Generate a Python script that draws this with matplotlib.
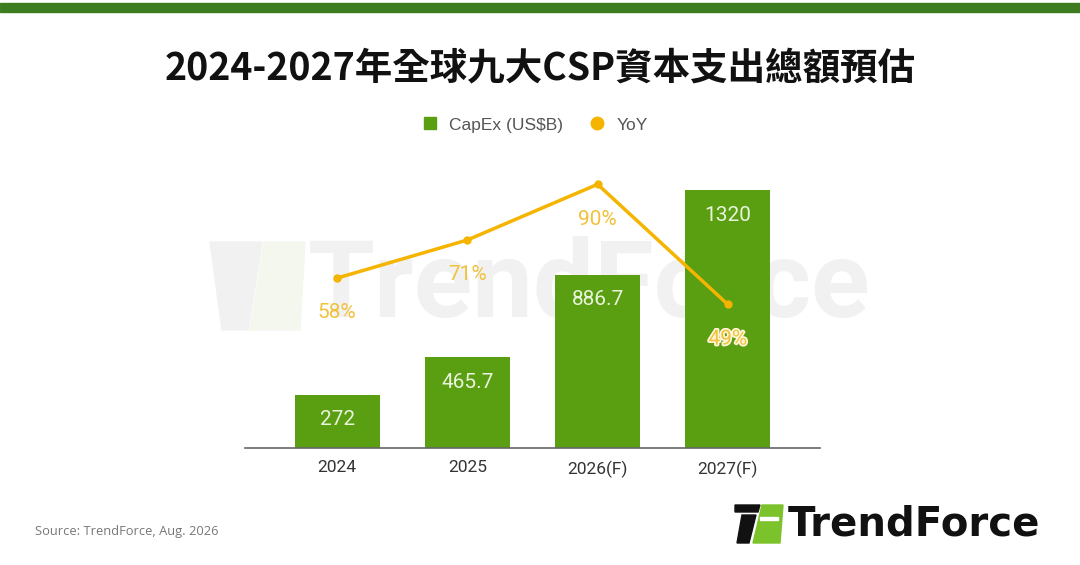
import matplotlib.pyplot as plt
import matplotlib.patheffects as pe
from matplotlib.patches import Rectangle, Polygon
from matplotlib.lines import Line2D

years = ["2024", "2025", "2026(F)", "2027(F)"]
capex = [272, 465.7, 886.7, 1320]
capex_labels = ["272", "465.7", "886.7", "1320"]
yoy = [58, 71, 90, 49]
yoy_labels = ["58%", "71%", "90%", "49%"]

plt.rcParams['font.family'] = ['Roboto', 'DejaVu Sans']

W, H = 1080, 565
fig = plt.figure(figsize=(W / 100, H / 100), dpi=100)
fig.patch.set_facecolor("white")

def fx(px):
    return px / W

def fy(py):
    return 1 - py / H

# top band
fig.patches.append(Rectangle((0, fy(12)), 1, 9 / H, transform=fig.transFigure,
                             color="#3d7d1f", zorder=0))

# title
fig.text(0.5, fy(68), "2024-2027年全球九大CSP資本支出總額預估", ha="center", va="center",
         fontsize=27, fontweight="bold", family=["Noto Sans CJK TC", "DejaVu Sans"], color="#111111")

# watermark
wm_col = "#f1f1f1"
fig.patches.append(Polygon([(fx(210), fy(242)), (fx(262), fy(242)), (fx(248), fy(330)), (fx(222), fy(330))],
                           closed=True, transform=fig.transFigure, color=wm_col, zorder=0))
fig.patches.append(Polygon([(fx(264), fy(242)), (fx(305), fy(242)), (fx(300), fy(330)), (fx(250), fy(330))],
                           closed=True, transform=fig.transFigure, color="#f3f7ee", zorder=0))
fig.text(fx(308), fy(287), "TrendForce", ha="left", va="center", fontsize=78, fontweight="bold",
         color=wm_col, zorder=0)

ax = fig.add_axes([fx(245), fy(448), fx(820) - fx(245), (448 - 155) / H])
ax.set_zorder(1)
ax.patch.set_alpha(0)
x = list(range(len(years)))
bars = ax.bar(x, capex, width=0.65, color="#5a9e12", zorder=2)
for b, lab in zip(bars, capex_labels):
    ax.annotate(lab, (b.get_x() + b.get_width() / 2, b.get_height()), xytext=(0, -18),
                textcoords="offset points", ha="center", va="center", fontsize=15,
                color="#eaf4dc", zorder=3)
ax.set_xlim(-0.708, 3.708)
ax.set_ylim(0, 1500)
ax.set_yticks([])
for s in ["top", "right", "left"]:
    ax.spines[s].set_visible(False)
ax.spines["bottom"].set_color("#666666")
ax.spines["bottom"].set_linewidth(1.2)
ax.set_xticks(x)
ax.set_xticklabels(years, fontsize=12.5, color="#333333")
ax.tick_params(axis="x", length=0, pad=9)

ax2 = ax.twinx()
ax2.plot(x, yoy, color="#f4b400", linewidth=2.5, marker="o", markersize=5, zorder=4)
for i, (v, lab) in enumerate(zip(yoy, yoy_labels)):
    t = ax2.annotate(lab, (i, v), xytext=(0, -25), textcoords="offset points", ha="center",
                     va="center", fontsize=15, color="#f2c13a", zorder=5)
    if i == 3:
        t.set_path_effects([pe.withStroke(linewidth=2.5, foreground="#fff6d8")])
ax2.set_ylim(0, 100)
ax2.set_yticks([])
for s in ["top", "right", "left", "bottom"]:
    ax2.spines[s].set_visible(False)

# legend
handles = [Line2D([], [], marker="s", linestyle="none", color="#5a9e12", markersize=9),
           Line2D([], [], marker="o", linestyle="none", color="#f4b400", markersize=9)]
fig.legend(handles, ["CapEx (US$B)", "YoY"], loc="center", bbox_to_anchor=(fx(530), fy(125)),
           ncol=2, frameon=False, labelcolor="#555555", handletextpad=0.1,
           columnspacing=1.0, prop={"family": ["Liberation Sans", "DejaVu Sans"], "size": 12.5})

# source
fig.text(fx(35), fy(532), "Source: TrendForce, Aug. 2026", ha="left", va="center",
         fontsize=9.3, color="#777777", family=["Open Sans", "DejaVu Sans"])

# logo
fig.patches.append(Polygon([(fx(735), fy(505)), (fx(760), fy(505)), (fx(758), fy(512)), (fx(735), fy(512))],
                           closed=True, transform=fig.transFigure, color="#111111", zorder=3))
fig.patches.append(Polygon([(fx(742), fy(515)), (fx(756), fy(515)), (fx(749), fy(543)), (fx(737), fy(543))],
                           closed=True, transform=fig.transFigure, color="#111111", zorder=3))
fig.patches.append(Polygon([(fx(762), fy(505)), (fx(783), fy(505)), (fx(780), fy(543)), (fx(753), fy(543))],
                           closed=True, transform=fig.transFigure, color="#7cc22a", zorder=3))
fig.patches.append(Rectangle((fx(760), fy(520)), fx(18), 3 / H, transform=fig.transFigure,
                             color="white", zorder=4))
fig.text(fx(788), fy(524), "TrendForce", ha="left", va="center", fontsize=29, fontweight="bold",
         color="#111111", family=["DejaVu Sans"])

fig.savefig("out.png", dpi=100)
